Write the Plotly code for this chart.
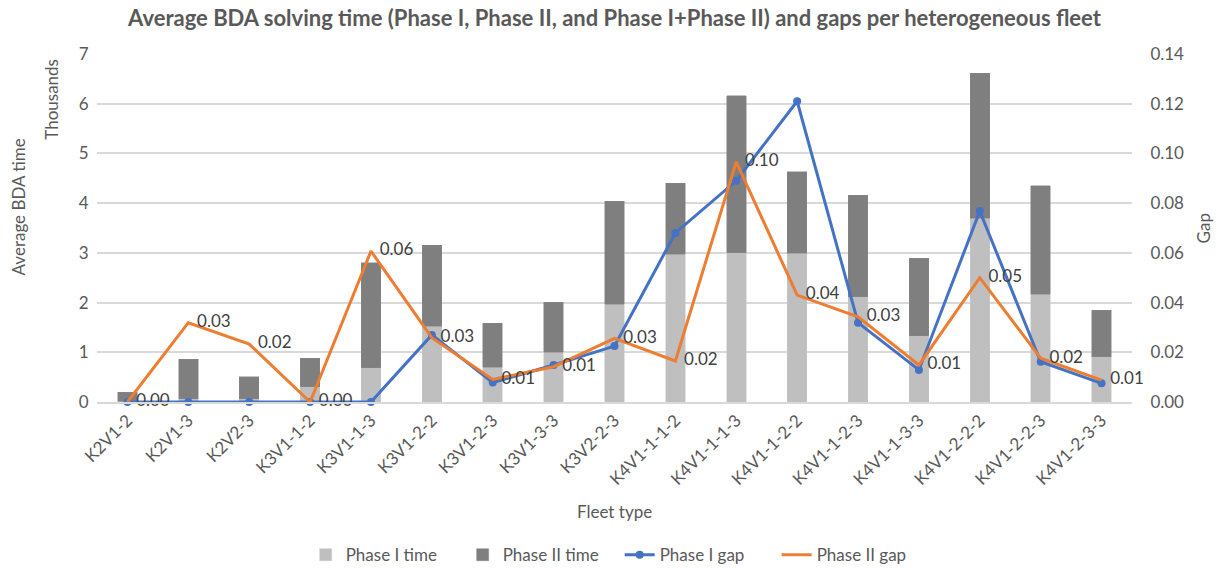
import plotly.graph_objects as go

fleet_types = ["K2V1-2", "K2V1-3", "K2V2-3", "K3V1-1-2", "K3V1-1-3", "K3V1-2-2", "K3V1-2-3",
               "K3V1-3-3", "K3V2-2-3", "K4V1-1-1-2", "K4V1-1-1-3", "K4V1-1-2-2", "K4V1-1-2-3",
               "K4V1-1-3-3", "K4V1-2-2-2", "K4V1-2-2-3", "K4V1-2-3-3"]
phase1_time = [0.02, 0.07, 0.07, 0.31, 0.69, 1.52, 0.70, 1.00, 1.97, 2.97, 3.00, 2.99, 2.12,
               1.33, 3.70, 2.17, 0.91]
total_time = [0.20, 0.86, 0.51, 0.88, 2.80, 3.15, 1.58, 2.01, 4.04, 4.40, 6.16, 4.63, 4.16,
              2.89, 6.61, 4.35, 1.85]
phase2_time = [round(t - p, 3) for t, p in zip(total_time, phase1_time)]
phase1_gap = [0.0, 0.0, 0.0, 0.0, 0.0, 0.027, 0.0078, 0.0149, 0.0225, 0.068, 0.089, 0.121,
              0.0319, 0.0129, 0.0768, 0.0162, 0.0075]
phase2_gap = [0.0, 0.0319, 0.0233, 0.0, 0.0607, 0.0259, 0.0091, 0.0142, 0.0256, 0.0165, 0.0966,
              0.043, 0.0343, 0.0149, 0.050, 0.0176, 0.0088]

FONT = "Lato"
TXT = "#595959"

fig = go.Figure()
fig.add_trace(go.Bar(x=fleet_types, y=phase1_time, name="Phase I time",
                     marker=dict(color="#BFBFBF", line=dict(color="#C8C8C8", width=0.5)),
                     width=0.32))
fig.add_trace(go.Bar(x=fleet_types, y=phase2_time, name="Phase II time",
                     marker=dict(color="#7F7F7F", line=dict(color="#888888", width=0.5)),
                     width=0.32))
fig.add_trace(go.Scatter(x=fleet_types, y=phase1_gap, name="Phase I gap", yaxis="y2",
                         mode="lines+markers", line=dict(color="#4472C4", width=3),
                         marker=dict(size=8, color="#4472C4"), cliponaxis=False))
fig.add_trace(go.Scatter(x=fleet_types, y=phase2_gap, name="Phase II gap", yaxis="y2",
                         mode="lines+text", line=dict(color="#ED7D31", width=3),
                         text=["\u00a0\u00a0" + f"{v:.2f}" for v in phase2_gap],
                         textposition="middle right", cliponaxis=False,
                         textfont=dict(family=FONT, size=17, color="#404040")))

fig.update_layout(
    width=1217, height=568,
    barmode="stack",
    paper_bgcolor="white", plot_bgcolor="white",
    margin=dict(l=97, r=85, t=54, b=166, autoexpand=False),
    font=dict(family=FONT, color=TXT, size=17),
    title=dict(text="<b>Average BDA solving time (Phase I, Phase II, and Phase I+Phase II) and gaps per heterogeneous fleet</b>",
               x=0.5, xref="paper", xanchor="center", y=0.968, yanchor="middle",
               font=dict(family=FONT, size=22, color=TXT)),
    xaxis=dict(tickangle=-45, tickfont=dict(size=17, color=TXT), showgrid=False,
               range=[-0.5, len(fleet_types) - 0.5],
               showline=True, linecolor="#D9D9D9", linewidth=1.5, ticks="", automargin=False),
    yaxis=dict(range=[0, 7], dtick=1, tickfont=dict(size=17, color=TXT),
               gridcolor="#D9D9D9", gridwidth=1.5, zeroline=False, automargin=False,
               ticks="outside", ticklen=4, tickcolor="rgba(0,0,0,0)"),
    yaxis2=dict(range=[0, 0.14], dtick=0.02, tickformat=".2f", overlaying="y", side="right",
                showgrid=False, zeroline=False, tickfont=dict(size=17, color=TXT),
                automargin=False, ticks="outside", ticklen=14, tickcolor="rgba(0,0,0,0)"),
    legend=dict(orientation="h", x=0.505, xanchor="center", y=-0.44, yanchor="middle",
                font=dict(size=17, color=TXT), traceorder="normal", itemwidth=30,
                entrywidth=112, entrywidthmode="pixels"),
    annotations=[
        dict(text="Thousands", xref="paper", yref="paper", x=-0.044, y=0.87, xanchor="center",
             yanchor="middle", textangle=-90, showarrow=False, font=dict(size=17, color=TXT)),
        dict(text="Average BDA time", xref="paper", yref="paper", x=-0.076, y=0.56,
             xanchor="center", yanchor="middle", textangle=-90, showarrow=False,
             font=dict(size=17, color=TXT)),
        dict(text="Gap", xref="paper", yref="paper", x=1.069, y=0.5, xanchor="center",
             yanchor="middle", textangle=-90, showarrow=False, font=dict(size=17, color=TXT)),
        dict(text="Fleet type", xref="paper", yref="paper", x=0.5, y=-0.316, xanchor="center",
             yanchor="middle", showarrow=False, font=dict(size=17, color=TXT)),
    ],
)

fig.write_html("out.html", config={"displayModeBar": False},
               post_script="document.body.style.margin='0';document.body.style.overflow='hidden';")
